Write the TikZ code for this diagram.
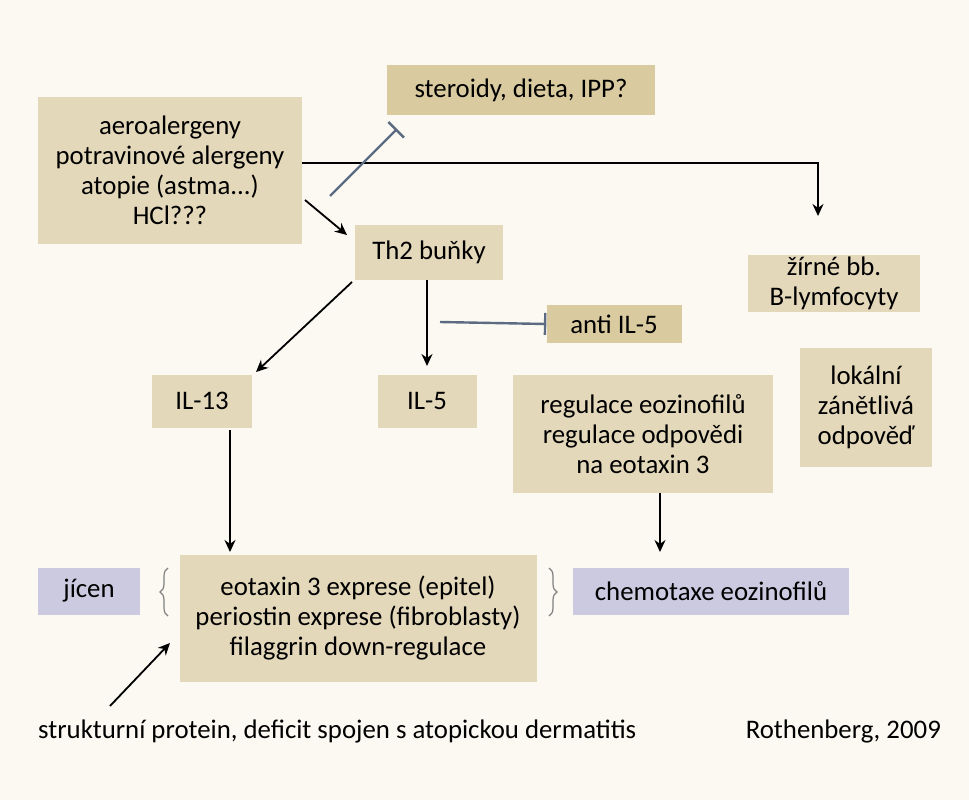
\documentclass[tikz,border=0pt]{standalone}
\usepackage{fontspec}
\setmainfont{Carlito}
\usetikzlibrary{arrows,arrows.meta,decorations.pathreplacing}
\definecolor{bgcream}{HTML}{FBF9F2}
\definecolor{boxtan}{HTML}{E4D8BB}
\definecolor{boxdark}{HTML}{D9CA9F}
\definecolor{boxlav}{HTML}{CBCAE0}
\definecolor{inhib}{HTML}{5C6B82}
\begin{document}
\begin{tikzpicture}[x=1pt,y=-1pt,>=Stealth,
  font=\fontsize{26.8}{30}\selectfont,
  box/.style={fill=boxtan,inner sep=0pt,align=center},
  dbox/.style={fill=boxdark,inner sep=0pt,align=center},
  lbox/.style={fill=boxlav,inner sep=0pt,align=center},
  act/.style={-{Stealth[length=12pt,width=11pt]},black,line width=1.8pt},
  blk/.style={-{Bar[width=22pt]},inhib,line width=2.4pt}]

  \fill[bgcream] (0,0) rectangle (969,800);
  \useasboundingbox (0,0) rectangle (969,800);

  \node[box,minimum width=264,minimum height=147] (aero) at (170,170) {aeroalergeny\\potravinové alergeny\\atopie (astma...)\\HCl???};
  \node[dbox,minimum width=268,minimum height=50] (ster) at (521,90) {steroidy, dieta, IPP?};
  \node[box,minimum width=148,minimum height=55] (th2) at (429,252) {Th2 buňky};
  \node[box,minimum width=172,minimum height=57] (mast) at (834,283) {žírné bb.\\B-lymfocyty};
  \node[dbox,minimum width=135,minimum height=38] (anti) at (614,324) {anti IL-5};
  \node[box,minimum width=100,minimum height=53] (il13) at (202,401) {IL-13};
  \node[box,minimum width=99,minimum height=53] (il5) at (427,401) {IL-5};
  \node[box,minimum width=260,minimum height=118] (regu) at (643,434) {regulace eozinofilů\\regulace odpovědi\\na eotaxin 3};
  \node[box,minimum width=132,minimum height=119] (lok) at (866,407) {lokální\\zánětlivá\\odpověď};
  \node[lbox,minimum width=102,minimum height=47] (jic) at (89,591) {jícen};
  \node[box,minimum width=357,minimum height=127] (eot) at (358,618) {eotaxin 3 exprese (epitel)\\periostin exprese (fibroblasty)\\filaggrin down-regulace};
  \node[lbox,minimum width=276,minimum height=47] (chem) at (711,591) {chemotaxe eozinofilů};
  \node[anchor=west,inner sep=0pt] (struk) at (38,731) {strukturní protein, deficit spojen s atopickou dermatitis};
  \node[anchor=east,inner sep=0pt] (roth) at (941,731) {Rothenberg, 2009};

  \coordinate (corner) at (818,163);
  \coordinate (hook) at (110,706);
  \coordinate (ib) at (440,322);

  % braces
  \draw[gray,line width=1.2pt,decorate,decoration={brace,amplitude=8pt}] (168,616) -- (168,568);
  \draw[gray,line width=1.2pt,decorate,decoration={brace,amplitude=8pt}] (549,568) -- (549,616);

  % connectors
  \draw[act] (aero.east |- corner) -- (corner) -- (818,216);
  \draw[act] (305,200) -- (347,235);
  \draw[blk] (330,196) -- (397,129);
  \draw[act] (352,282) -- (256,372);
  \draw[act] (th2.south) ++(-2,0) -- (427,366);
  \draw[blk] (ib) -- (anti.west);
  \draw[act] (230,430) -- (230,552);
  \draw[act] (660,493) -- (660,552);
  \draw[act] (hook) -- (170,643);
\end{tikzpicture}
\end{document}
